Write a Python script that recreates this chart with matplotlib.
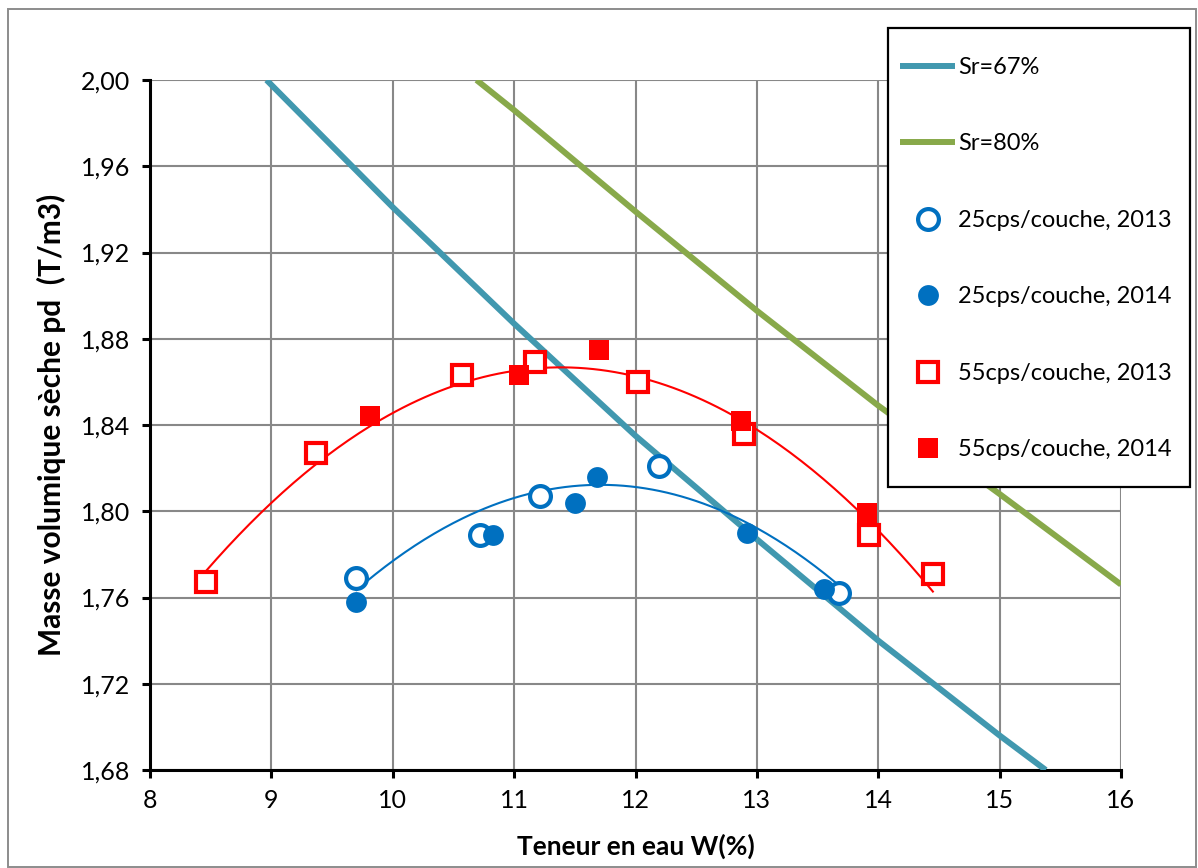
import matplotlib
matplotlib.use("Agg")
import matplotlib.pyplot as plt
from matplotlib.patches import Rectangle
import numpy as np

# water content (%) / dry density (T/m3)
w_25_2013 = [9.70, 10.72, 11.21, 12.19, 13.68]
d_25_2013 = [1.769, 1.789, 1.807, 1.821, 1.762]

w_25_2014 = [9.70, 10.83, 11.50, 11.68, 12.92, 13.55]
d_25_2014 = [1.758, 1.789, 1.804, 1.816, 1.790, 1.764]

w_55_2013 = [8.46, 9.37, 10.57, 11.17, 12.02, 12.89, 13.92, 14.45]
d_55_2013 = [1.767, 1.827, 1.863, 1.869, 1.860, 1.836, 1.789, 1.771]

w_55_2014 = [9.81, 11.04, 11.70, 12.87, 13.91]
d_55_2014 = [1.844, 1.863, 1.875, 1.842, 1.799]

# saturation lines
w_sr67 = [8.96, 10, 11, 12, 13, 14, 15, 15.38]
d_sr67 = [2.000, 1.941, 1.887, 1.835, 1.787, 1.740, 1.696, 1.680]

w_sr80 = [10.69, 11, 12, 13, 14, 15, 16]
d_sr80 = [2.000, 1.986, 1.939, 1.893, 1.849, 1.808, 1.766]

x_ticks = [8, 9, 10, 11, 12, 13, 14, 15, 16]
y_ticks = [1.68, 1.72, 1.76, 1.80, 1.84, 1.88, 1.92, 1.96, 2.00]

BLUE = "#0070C0"
RED = "#FF0000"
SR67 = "#4198AF"
SR80 = "#88A94A"
GRID = "#888888"

plt.rcParams["font.family"] = ["Lato", "DejaVu Sans"]

W, H = 1198, 868
fig = plt.figure(figsize=(W / 100, H / 100), dpi=100)
ax = fig.add_axes([150 / W, 1 - 770 / H, 971 / W, 690 / H])

# outer chart border
fig.patches.append(Rectangle((8 / W, 1 / H), (1196 - 8) / W, (866 - 8) / H,
                             transform=fig.transFigure, fill=False,
                             edgecolor="#8c8c8c", lw=1.4))

ax.plot(w_sr67, d_sr67, color=SR67, lw=4.3, label="Sr=67%", zorder=3,
        solid_capstyle="butt")
ax.plot(w_sr80, d_sr80, color=SR80, lw=4.3, label="Sr=80%", zorder=3,
        solid_capstyle="butt")

# polynomial (order 2) trendlines on the 2013 series
for wx, dy, col in [(w_25_2013, d_25_2013, BLUE), (w_55_2013, d_55_2013, RED)]:
    coef = np.polyfit(wx, dy, 2)
    xs = np.linspace(min(wx), max(wx), 200)
    ax.plot(xs, np.polyval(coef, xs), color=col, lw=1.5, zorder=4)

ms = 15
mew = 3.0
ax.plot(w_25_2013, d_25_2013, "o", ms=ms, mfc="white", mec=BLUE, mew=mew,
        label="25cps/couche, 2013", zorder=5)
ax.plot(w_25_2014, d_25_2014, "o", ms=ms, mfc=BLUE, mec=BLUE, mew=0,
        label="25cps/couche, 2014", zorder=5)
ax.plot(w_55_2013, d_55_2013, "s", ms=ms - 0.5, mfc="white", mec=RED, mew=mew,
        label="55cps/couche, 2013", zorder=5)
ax.plot(w_55_2014, d_55_2014, "s", ms=ms - 0.5, mfc=RED, mec=RED, mew=0,
        label="55cps/couche, 2014", zorder=5)

ax.set_xlim(8, 16)
ax.set_ylim(1.68, 2.00)
ax.set_xticks(x_ticks)
ax.set_yticks(y_ticks)
ax.set_xticklabels([str(t) for t in x_ticks])
ax.set_yticklabels([f"{t:.2f}".replace(".", ",") for t in y_ticks])
ax.grid(True, color=GRID, lw=1.5)
ax.set_axisbelow(True)

for s in ["top", "right"]:
    ax.spines[s].set_visible(False)
for s in ["left", "bottom"]:
    ax.spines[s].set_linewidth(2.2)
    ax.spines[s].set_color("black")
ax.tick_params(direction="out", length=6, width=2.2, colors="black",
               labelsize=18, pad=8)

ax.set_xlabel("Teneur en eau W(%)", fontsize=19, fontweight="bold")
ax.set_ylabel("Masse volumique sèche pd  (T/m3)", fontsize=21.5,
              fontweight="bold")
ax.xaxis.set_label_coords(0.5005, -0.092)
ax.yaxis.set_label_coords(-0.0865, 0.5)

# legend box drawn separately so the entries can be placed freely inside it
ax.add_patch(Rectangle((888 / W, 1 - 487 / H), (1190 - 888) / W,
                       (487 - 28) / H, transform=fig.transFigure,
                       facecolor="white", edgecolor="black", lw=1.6,
                       zorder=9, clip_on=False))
leg = ax.legend(loc="upper left",
                bbox_to_anchor=(900 / W, 1 - 57 / H),
                bbox_transform=fig.transFigure,
                fontsize=17, frameon=False, labelspacing=2.35,
                handlelength=2.33, handletextpad=0.13, borderpad=0,
                borderaxespad=0)
leg.set_zorder(10)

fig.savefig("out.png", dpi=100)
